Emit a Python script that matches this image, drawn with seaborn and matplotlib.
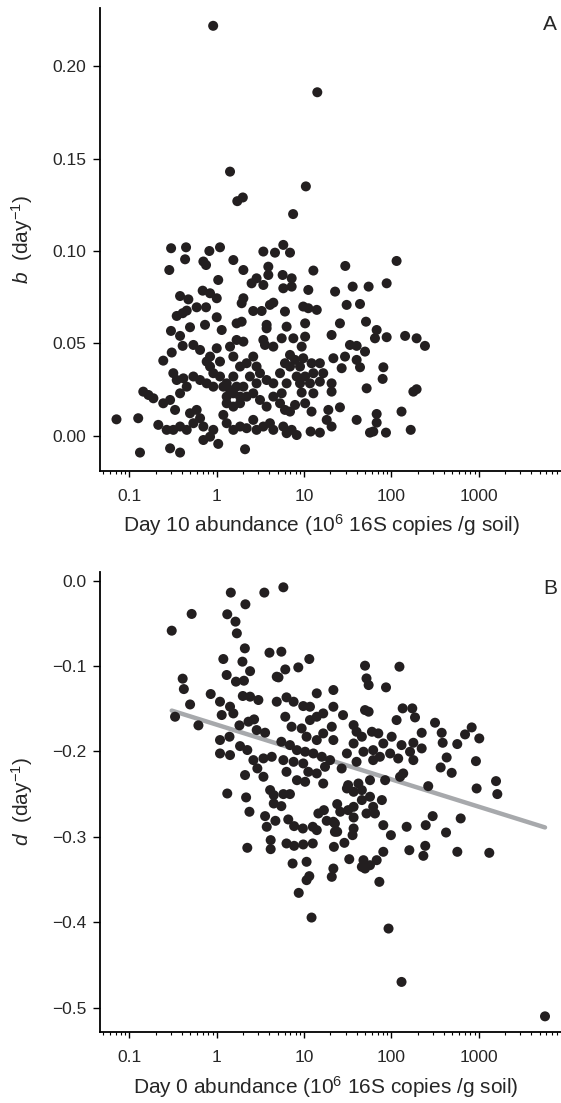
import matplotlib
matplotlib.use("Agg")
import matplotlib.pyplot as plt
import seaborn as sns
import numpy as np
from matplotlib.ticker import FixedLocator, LogLocator, NullFormatter

# Panel A: b (day^-1) against day 10 abundance (10^6 16S copies / g soil)
day10_abund = [
    0.91, 14.2, 1.42, 1.72, 1.99, 10.5, 7.5, 0.30, 0.445, 0.434,
    0.823, 1.09, 0.286, 0.703, 0.754, 1.55, 2.02, 3.42, 4.65, 5.79,
    3.90, 3.90, 2.86, 2.51, 3.42, 5.69, 5.79, 1.04, 0.69, 0.838,
    1.0, 0.38, 0.473, 0.589, 0.754, 0.453, 0.348, 0.407, 1.0, 0.734,
    0.494, 0.299, 0.38, 0.407, 0.305, 0.244, 0.54, 0.644, 0.838, 1.0,
    1.14, 1.69, 1.93, 2.02, 1.93, 2.62, 3.27, 4.07, 4.45, 3.73,
    3.73, 6.05, 6.32, 5.55, 4.45, 3.57, 3.42, 1.69, 2.02, 1.42,
    1.55, 1.09, 0.838, 0.767, 0.914, 1.09, 1.30, 1.55, 1.85, 2.20,
    2.62, 2.86, 3.13, 2.40, 2.86, 3.73, 4.45, 5.31, 6.05, 6.32,
    0.318, 0.348, 0.415, 0.54, 0.644, 0.767, 0.914, 0.453, 0.38, 0.292,
    0.244, 0.144, 0.165, 0.188, 0.333, 0.494, 0.589, 0.644, 0.54, 0.453,
    0.38, 0.318, 0.267, 0.214, 0.071, 0.126, 0.132, 0.292, 0.38, 2.11,
    1.04, 0.914, 0.703, 0.838, 0.703, 1.19, 1.30, 1.55, 1.85, 2.20,
    2.62, 2.86, 3.42, 4.07, 4.45, 5.79, 6.32, 1.30, 1.55, 1.85,
    2.20, 2.62, 3.13, 3.73, 4.45, 5.31, 6.05, 1.30, 1.55, 1.85,
    1.42, 1.69, 2.02, 1.19, 6.91, 12.8, 29.7, 115, 7.22, 7.22,
    11.2, 22.7, 36.1, 55.0, 88.5, 30.8, 43.8, 9.8, 11.2, 14.0,
    10.3, 25.8, 51.3, 68.0, 65.0, 88.5, 144, 195, 243, 7.55,
    10.3, 9.4, 20.7, 33.6, 40.1, 50.0, 6.91, 7.89, 9.8, 6.91,
    9.0, 12.2, 15.2, 21.7, 29.5, 40.1, 43.8, 27.0, 16.6, 12.8,
    10.3, 8.24, 81.1, 79.6, 9.0, 11.7, 15.2, 20.7, 9.4, 12.8,
    20.7, 52.2, 179, 195, 7.89, 10.3, 12.2, 6.91, 19.0, 25.8,
    131, 68.0, 68.0, 40.1, 18.2, 20.7, 7.22, 8.24, 11.9, 15.2,
    57.0, 62.2, 86.9, 167, 5.55,
]
b_rate = [
    0.222, 0.186, 0.143, 0.127, 0.129, 0.135, 0.120, 0.1015, 0.102, 0.0955,
    0.100, 0.102, 0.0897, 0.0943, 0.0924, 0.0951, 0.0897, 0.0997, 0.0991, 0.1033,
    0.0915, 0.087, 0.0852, 0.0825, 0.0816, 0.087, 0.0798, 0.0843, 0.0785, 0.0771,
    0.0744, 0.0756, 0.0738, 0.0695, 0.0695, 0.0677, 0.0648, 0.0663, 0.0641, 0.060,
    0.0587, 0.0567, 0.054, 0.0486, 0.045, 0.0406, 0.0491, 0.0464, 0.0428, 0.0473,
    0.0572, 0.0608, 0.0617, 0.0744, 0.0717, 0.0675, 0.0675, 0.0708, 0.072, 0.060,
    0.0581, 0.0672, 0.059, 0.0527, 0.0482, 0.0491, 0.0518, 0.0518, 0.0509, 0.0482,
    0.0428, 0.0401, 0.0374, 0.0401, 0.0338, 0.032, 0.0283, 0.032, 0.0374, 0.0392,
    0.0428, 0.0374, 0.0338, 0.032, 0.0283, 0.0301, 0.0283, 0.0338, 0.0392, 0.0283,
    0.0338, 0.0301, 0.031, 0.032, 0.0301, 0.0283, 0.0265, 0.0265, 0.0229, 0.0193,
    0.0175, 0.0238, 0.022, 0.0202, 0.0139, 0.0121, 0.0139, 0.0094, 0.0067, 0.0031,
    0.0049, 0.0031, 0.0031, 0.0058, 0.0088, 0.0094, -0.0092, -0.0069, -0.0092, -0.0074,
    -0.0045, 0.0031, 0.0049, -0.0006, -0.0024, 0.0112, 0.0067, 0.0031, 0.0049, 0.004,
    0.0085, 0.0031, 0.0049, 0.0067, 0.0031, 0.0049, 0.0013, 0.0211, 0.0229, 0.0175,
    0.0211, 0.0229, 0.0193, 0.0157, 0.0211, 0.0175, 0.0139, 0.0175, 0.0157, 0.0211,
    0.0247, 0.0265, 0.0265, 0.0265, 0.0991, 0.0894, 0.0919, 0.0946, 0.0852, 0.0807,
    0.0789, 0.078, 0.0807, 0.0807, 0.0825, 0.0708, 0.0713, 0.0699, 0.069, 0.0681,
    0.0608, 0.0608, 0.0617, 0.0572, 0.0527, 0.0533, 0.054, 0.0527, 0.0486, 0.0527,
    0.0536, 0.0482, 0.0545, 0.0491, 0.0486, 0.0455, 0.0437, 0.041, 0.0419, 0.0374,
    0.0374, 0.0392, 0.0392, 0.0419, 0.0428, 0.041, 0.037, 0.0365, 0.0338, 0.0338,
    0.032, 0.032, 0.037, 0.0307, 0.0283, 0.0283, 0.0292, 0.0283, 0.0233, 0.0229,
    0.0238, 0.0256, 0.0238, 0.0251, 0.0166, 0.0175, 0.013, 0.013, 0.0139, 0.0153,
    0.013, 0.0117, 0.007, 0.0085, 0.0085, 0.0049, 0.0031, 0.0003, 0.0022, 0.0016,
    0.0016, 0.0022, 0.0016, 0.0031, 0.0229,
]

# Panel B: d (day^-1) against day 0 abundance
day0_abund = [
    0.305, 0.516, 0.407, 0.42, 0.495, 0.333, 0.617, 0.853, 1.45, 1.32,
    1.64, 1.70, 2.13, 3.51, 2.10, 1.19, 1.97, 2.41, 1.30, 1.66,
    2.05, 1.09, 1.42, 1.99, 2.41, 3.0, 1.14, 1.55, 1.82, 2.31,
    2.68, 2.87, 3.58, 1.09, 1.40, 1.09, 1.42, 1.85, 2.24, 2.63,
    3.43, 4.27, 2.11, 2.92, 3.43, 1.32, 2.17, 2.37, 3.58, 3.74,
    4.09, 4.02, 4.87, 4.87, 5.8, 5.5, 11.5, 8.6, 6.1, 5.1,
    21.7, 14.0, 6.3, 7.6, 9.8, 11.7, 21.7, 16.6, 14.0, 11.7,
    6.1, 7.2, 9.4, 10.7, 14.0, 16.6, 20.8, 21.7, 5.5, 6.9,
    8.3, 10.3, 12.8, 16.0, 19.9, 5.8, 7.6, 9.8, 11.2, 14.0,
    17.4, 6.3, 8.3, 10.3, 16.6, 50, 124, 52, 55, 87,
    28, 50, 55, 135, 174, 187, 115, 317, 834, 700,
    1019, 378, 388, 570, 223, 37, 40, 46, 60, 71,
    101, 81, 131, 179, 223, 164, 120, 97, 62, 48,
    37, 31, 27, 40, 62, 74, 179, 431, 933, 368,
    492, 1585, 950, 265, 126, 137, 85, 57, 42, 32,
    1640, 24, 26, 32, 37, 37, 31, 37, 46, 46,
    57, 62, 52, 65, 78, 21.7, 24, 22, 29, 37,
    36, 33, 48, 50, 46, 57, 68, 81, 73, 81,
    99, 150, 161, 248, 298, 245, 233, 424, 624, 571,
    1327, 93, 131, 5770, 20.8, 21.7, 2.24, 4.15, 4.15, 4.7,
    6.3, 7.7, 9.8, 12.6, 7.4, 10.7, 11.5, 10.7, 8.7, 12.2,
    6.6, 7.7, 9.7, 12.6, 14.0, 14.6, 16.9, 18.2, 22.6, 22.6,
    5.5, 5.8, 6.9, 4.5, 4.5,
]
d_rate = [
    -0.0586, -0.039, -0.1148, -0.127, -0.145, -0.1594, -0.1695, -0.1328, -0.014, -0.0394,
    -0.048, -0.0617, -0.0277, -0.014, -0.0793, -0.0918, -0.0949, -0.106, -0.1105, -0.1183,
    -0.1172, -0.1418, -0.1476, -0.1351, -0.1359, -0.1398, -0.1574, -0.1555, -0.1695, -0.1652,
    -0.1625, -0.175, -0.1781, -0.1867, -0.1828, -0.2024, -0.2043, -0.1938, -0.1984, -0.2102,
    -0.2082, -0.2063, -0.2277, -0.2199, -0.2297, -0.2493, -0.2539, -0.2707, -0.2758, -0.2883,
    -0.2453, -0.0844, -0.1125, -0.1418, -0.0078, -0.0832, -0.0918, -0.1016, -0.104, -0.1133,
    -0.1281, -0.132, -0.1367, -0.1418, -0.1469, -0.1477, -0.1477, -0.1555, -0.1594, -0.1633,
    -0.1594, -0.1711, -0.1731, -0.1828, -0.1867, -0.1789, -0.1711, -0.1867, -0.1887, -0.1926,
    -0.1985, -0.2004, -0.2024, -0.2063, -0.2102, -0.2102, -0.2122, -0.2141, -0.2239, -0.2258,
    -0.218, -0.2239, -0.2337, -0.2356, -0.2376, -0.0996, -0.1008, -0.1145, -0.1223, -0.125,
    -0.1575, -0.1516, -0.1535, -0.1496, -0.1496, -0.1602, -0.1633, -0.1664, -0.1719, -0.1801,
    -0.1848, -0.1782, -0.1899, -0.1914, -0.1782, -0.1692, -0.177, -0.1828, -0.177, -0.1789,
    -0.1828, -0.1907, -0.1926, -0.1899, -0.1965, -0.2004, -0.2083, -0.2024, -0.1985, -0.2004,
    -0.1907, -0.2024, -0.22, -0.2122, -0.2102, -0.2063, -0.2102, -0.2071, -0.2114, -0.2188,
    -0.2251, -0.2348, -0.2434, -0.2407, -0.2298, -0.2258, -0.2337, -0.2337, -0.2376, -0.2395,
    -0.25, -0.2617, -0.2707, -0.2688, -0.2649, -0.2774, -0.2434, -0.2473, -0.2453, -0.257,
    -0.2531, -0.2649, -0.2727, -0.2727, -0.257, -0.2824, -0.2941, -0.3118, -0.3071, -0.2903,
    -0.2981, -0.3262, -0.3274, -0.3372, -0.3352, -0.3333, -0.3274, -0.3176, -0.3528, -0.2864,
    -0.2981, -0.2883, -0.3157, -0.2864, -0.2758, -0.3106, -0.3223, -0.295, -0.2785, -0.3176,
    -0.3188, -0.4075, -0.47, -0.5103, -0.3469, -0.3372, -0.3129, -0.3039, -0.3145, -0.2813,
    -0.3078, -0.3106, -0.309, -0.3078, -0.3313, -0.3293, -0.3461, -0.3508, -0.3657, -0.3946,
    -0.2797, -0.2875, -0.2903, -0.2883, -0.2922, -0.2727, -0.2688, -0.2813, -0.2844, -0.2942,
    -0.2641, -0.25, -0.25, -0.261, -0.2512,
]

# fitted trend in panel B, d = intercept + slope * log10(abundance), as drawn in the figure
fit_intercept = -0.1687
fit_slope = -0.0320

x_ticks = [0.1, 1, 10, 100, 1000]
x_ticklabels = ["0.1", "1", "10", "100", "1000"]
b_ticks = [0.00, 0.05, 0.10, 0.15, 0.20]
d_ticks = [0.0, -0.1, -0.2, -0.3, -0.4, -0.5]

sns.set_style("ticks")
plt.rcParams["font.family"] = ["Liberation Sans", "DejaVu Sans"]
plt.rcParams["mathtext.fontset"] = "custom"
plt.rcParams["mathtext.rm"] = "Liberation Sans"
plt.rcParams["mathtext.it"] = "Liberation Sans:italic"

dot_color = "#231f20"
fig = plt.figure(figsize=(5.61, 11.03), dpi=100)
ax_a = fig.add_axes([0.1783, 0.5733, 0.8217, 0.4192])
ax_b = fig.add_axes([0.1783, 0.0641, 0.8217, 0.4176])

sns.scatterplot(x=day10_abund, y=b_rate, ax=ax_a, color=dot_color,
                s=52, linewidth=0, edgecolor="none", zorder=3)

# trend line spans the range of the data
fit_x = [min(day0_abund), max(day0_abund)]
fit_y = [fit_intercept + fit_slope * np.log10(v) for v in fit_x]
sns.lineplot(x=fit_x, y=fit_y, ax=ax_b, color="#a7a9ac", linewidth=3.2, zorder=2)
sns.scatterplot(x=day0_abund, y=d_rate, ax=ax_b, color=dot_color,
                s=52, linewidth=0, edgecolor="none", zorder=3)


def fmt(v, nd):
    return f"{v:.{nd}f}".replace("-", "\u2212")


for ax in (ax_a, ax_b):
    ax.set_xscale("log")
    ax.set_xlim(0.046, 8800)
    ax.xaxis.set_major_locator(FixedLocator(x_ticks))
    ax.set_xticklabels(x_ticklabels)
    ax.xaxis.set_minor_locator(LogLocator(base=10, subs=range(2, 10), numticks=20))
    ax.xaxis.set_minor_formatter(NullFormatter())
    ax.tick_params(axis="x", which="major", length=4, width=1, pad=9,
                   labelsize=12.5, color="black")
    ax.tick_params(axis="x", which="minor", length=2.2, width=0.8, color="black")
    ax.tick_params(axis="y", which="major", length=5, width=1, pad=5,
                   labelsize=12.5, color="black")
    for side in ("left", "bottom"):
        ax.spines[side].set_linewidth(1.3)
        ax.spines[side].set_color("black")
    sns.despine(ax=ax)
    ax.yaxis.set_label_coords(-0.141, 0.5)

ax_a.set_ylim(-0.019, 0.2315)
ax_a.set_yticks(b_ticks)
ax_a.set_yticklabels([fmt(v, 2) for v in b_ticks])
ax_b.set_ylim(-0.529, 0.0105)
ax_b.set_yticks(d_ticks)
ax_b.set_yticklabels([fmt(v, 1) for v in d_ticks])

ax_a.set_ylabel(r"$b$  (day$^{-1}$)", fontsize=15)
ax_b.set_ylabel(r"$d$  (day$^{-1}$)", fontsize=15)
ax_a.set_xlabel(r"Day 10 abundance (10$^{6}$ 16S copies /g soil)", fontsize=15)
ax_b.set_xlabel(r"Day 0 abundance (10$^{6}$ 16S copies /g soil)", fontsize=15)
ax_a.xaxis.set_label_coords(0.48, -0.09)
ax_b.xaxis.set_label_coords(0.49, -0.09)

ax_a.text(0.992, 0.985, "A", transform=ax_a.transAxes, ha="right", va="top", fontsize=15)
ax_b.text(0.992, 0.985, "B", transform=ax_b.transAxes, ha="right", va="top", fontsize=15)

fig.savefig("out.png", dpi=100)
